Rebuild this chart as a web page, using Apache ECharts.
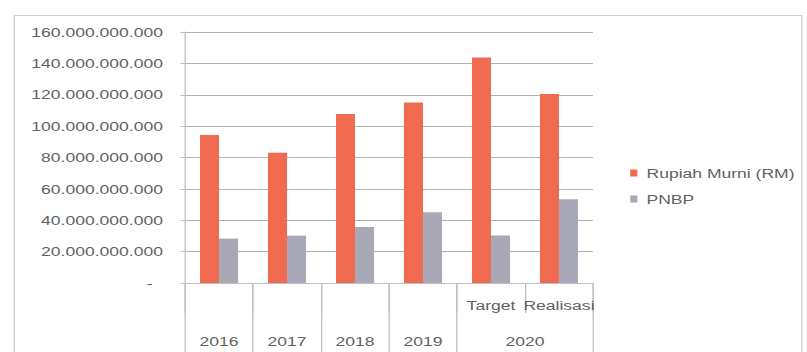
<!DOCTYPE html>
<html>
<head>
<meta charset="utf-8">
<script src="https://cdn.jsdelivr.net/npm/echarts@6/dist/echarts.min.js"></script>
<style>
  html, body { margin: 0; padding: 0; background: #ffffff; overflow: hidden; }
  /* the chart is laid out on a narrower canvas and widened to fill the page */
  #chart { width: 621px; height: 352px; transform: scaleX(1.2995); transform-origin: 0 0; }
</style>
</head>
<body>
<div id="chart"></div>
<script>
// Budget by source of funds, 2016-2020 (Rupiah)
const categories = ['2016', '2017', '2018', '2019', 'Target', 'Realisasi'];
const subLabels = ['', '', '', '', 'Target', 'Realisasi'];
const groupLabels = ['2016', '2017', '2018', '2019', '2020'];
const groupSpans = [1, 1, 1, 1, 2];

const rupiahMurni = [94300000000, 83000000000, 107800000000, 115000000000, 143700000000, 120500000000];
const pnbp = [28300000000, 30200000000, 35700000000, 45100000000, 30200000000, 53400000000];

const seriesNames = ['Rupiah Murni (RM)', 'PNBP'];
const yTicks = [0, 20000000000, 40000000000, 60000000000, 80000000000, 100000000000, 120000000000, 140000000000, 160000000000];

// boundaries and centres of the year groups on the lower label row
const groupEdges = [0];
groupSpans.forEach(s => groupEdges.push(groupEdges[groupEdges.length - 1] + s));
const groupCenters = groupSpans.map((s, i) => groupEdges[i] + s / 2);

const textColor = '#616161';
const lineColor = '#bfbfbf';
const font = 'Liberation Sans, Arial, sans-serif';

function formatRupiah(v) {
  if (v === 0) return '{z|-}';
  return String(Math.round(v)).replace(/\B(?=(\d{3})+(?!\d))/g, '.');
}

const chart = echarts.init(document.getElementById('chart'), null, { renderer: 'svg' });
chart.setOption({
  backgroundColor: '#ffffff',
  animation: false,
  textStyle: { fontFamily: font },
  graphic: [{
    type: 'rect',
    left: 8.5, top: 13,
    shape: { width: 606, height: 380 },
    style: { fill: 'none', stroke: '#d0d0d0', lineWidth: 1 },
    silent: true
  }],
  grid: { left: 142.4, right: 164.7, top: 32, bottom: 69 },
  legend: {
    orient: 'vertical',
    left: 480, top: 161,
    itemWidth: 5.5, itemHeight: 7, itemGap: 12,
    icon: 'rect',
    data: seriesNames,
    textStyle: { color: textColor, fontSize: 13.5, fontFamily: font, lineHeight: 14, padding: [0, 0, 0, 2] }
  },
  xAxis: [{
    type: 'category',
    data: categories,
    axisLine: { lineStyle: { color: lineColor } },
    axisTick: { show: true, interval: 0, length: 30, lineStyle: { color: lineColor } },
    axisLabel: {
      interval: 0, margin: 15, color: textColor, fontSize: 13.5, fontFamily: font,
      formatter: (v, i) => subLabels[i]
    }
  }, {
    type: 'value',
    position: 'bottom',
    min: 0, max: categories.length,
    axisLine: { show: false },
    splitLine: { show: false },
    axisTick: { show: true, length: 69, customValues: groupEdges, lineStyle: { color: lineColor } },
    axisLabel: {
      margin: 51, color: textColor, fontSize: 13.5, fontFamily: font,
      customValues: groupCenters,
      formatter: v => groupLabels[groupCenters.indexOf(v)]
    }
  }],
  yAxis: {
    type: 'value',
    min: 0, max: yTicks[yTicks.length - 1], interval: yTicks[1] - yTicks[0],
    axisLine: { show: true, lineStyle: { color: lineColor } },
    axisTick: { show: true, length: 3.5, lineStyle: { color: lineColor } },
    splitLine: { lineStyle: { color: '#b3b3b3' } },
    axisLabel: {
      margin: 17, color: textColor, fontSize: 13.5, fontFamily: font,
      formatter: formatRupiah,
      rich: { z: { color: textColor, fontSize: 13.5, fontFamily: font, padding: [0, 8, 0, 0] } }
    }
  },
  series: [{
    name: seriesNames[0], type: 'bar', xAxisIndex: 0,
    data: rupiahMurni, barGap: '0%', barCategoryGap: '44%',
    itemStyle: { color: '#ef6a4e' }
  }, {
    name: seriesNames[1], type: 'bar', xAxisIndex: 0,
    data: pnbp, barGap: '0%', barCategoryGap: '44%',
    itemStyle: { color: '#a8a8b6' }
  }]
});
</script>
</body>
</html>
